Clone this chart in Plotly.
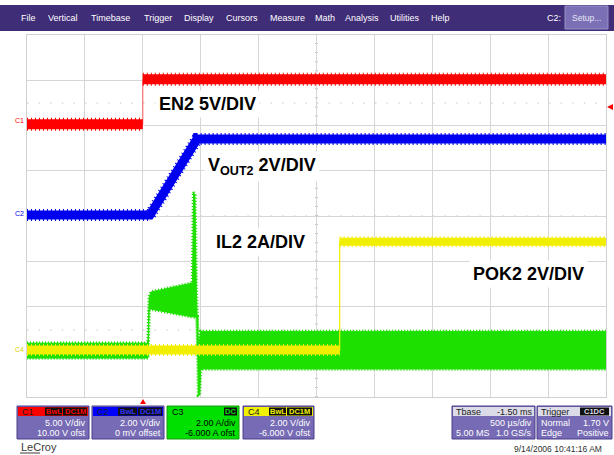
import plotly.graph_objects as go

# ---- acquisition data: time in ms (500 us/div), vertical in screen divisions ----
T_RANGE = [-1.0, 4.0]
DIV_RANGE = [0, 8]

# EN2 (C1, 5 V/div)
en2_t = [-1.0, 0.0, 0.0, 4.0]
en2_v = [6.03, 6.03, 7.02, 7.02]

# VOUT2 (C2, 2 V/div)
vout_t = [-1.0, 0.062, 0.468, 4.0]
vout_v = [4.02, 4.02, 5.70, 5.70]

# POK2 (C4, 2 V/div)
pok_t = [-1.0, 1.70, 1.70, 4.0]
pok_v = [1.04, 1.04, 3.43, 3.43]

# IL2 (C3, 2 A/div) ripple envelope: upper and lower edges
il2_top_t = [-1.0, 0.045, 0.055, 0.07, 0.43, 0.438, 0.45, 0.462, 0.478, 0.50, 4.0]
il2_top_v = [1.19, 1.19, 2.20, 2.32, 2.52, 4.53, 4.45, 2.40, 1.00, 1.45, 1.45]
il2_bot_t = [-1.0, 0.045, 0.055, 0.43, 0.47, 0.48, 0.49, 0.50, 4.0]
il2_bot_v = [0.86, 0.86, 1.95, 1.77, 1.77, 0.04, 0.04, 0.62, 0.62]

menu_items = ["File", "Vertical", "Timebase", "Trigger", "Display", "Cursors",
              "Measure", "Math", "Analysis", "Utilities", "Help"]
menu_x = [20, 47, 90, 143, 183, 225, 269, 314, 344, 389, 430]

FONT = "Arial, Liberation Sans, sans-serif"
RED, BLUE, GREEN, YELLOW = "#ff0000", "#0000f0", "#1ee000", "#f2ee00"
PANEL = "#766bb4"
PANEL_EDGE = "#4a3f8c"
JAG = "1px,3px"  # dash used to give the sampled traces a ragged edge

# screen geometry helpers (pixel -> paper)
L, R, T, B = 27, 606, 35, 397
def PX(px):
    return (px - L) / (R - L)
def PY(py):
    return (B - py) / (B - T)

fig = go.Figure()

def thick(x, y, color, width):
    fig.add_trace(go.Scatter(x=x, y=y, mode="lines",
                             line=dict(color=color, width=width + 3, dash=JAG),
                             hoverinfo="skip"))
    fig.add_trace(go.Scatter(x=x, y=y, mode="lines",
                             line=dict(color=color, width=width), hoverinfo="skip"))

# IL2 ripple band: ragged outline, then solid fill and edge
il2_x = il2_top_t + il2_bot_t[::-1]
il2_y = il2_top_v + il2_bot_v[::-1]
fig.add_trace(go.Scatter(x=il2_x, y=il2_y, mode="lines",
                         line=dict(color=GREEN, width=3.5, dash="1px,2px"), hoverinfo="skip"))
fig.add_trace(go.Scatter(x=il2_x, y=il2_y, mode="lines", fill="toself", fillcolor=GREEN,
                         line=dict(color=GREEN, width=1), hoverinfo="skip"))

# POK2: thin edge + thick levels
fig.add_trace(go.Scatter(x=pok_t, y=pok_v, mode="lines",
                         line=dict(color=YELLOW, width=1.2), hoverinfo="skip"))
thick(pok_t[0:2], pok_v[0:2], YELLOW, 9)
thick(pok_t[2:4], pok_v[2:4], YELLOW, 8)

# VOUT2
thick(vout_t, vout_v, BLUE, 9)

# EN2
fig.add_trace(go.Scatter(x=en2_t, y=en2_v, mode="lines",
                         line=dict(color="#ff6060", width=1), hoverinfo="skip"))
thick(en2_t[0:2], en2_v[0:2], RED, 10)
thick(en2_t[2:4], en2_v[2:4], RED, 10)

shapes = []
ann = []

def rect(x0, y0, x1, y1, fill, line=None, layer="above"):
    shapes.append(dict(type="rect", xref="paper", yref="paper",
                       x0=PX(x0), x1=PX(x1), y0=PY(y1), y1=PY(y0),
                       fillcolor=fill, layer=layer,
                       line=dict(color=line or fill, width=1 if line else 0)))

def text(px, py, s, size=9, color="white", anchor="left", bold=False, bg=None, pad=0):
    ann.append(dict(xref="paper", yref="paper", x=PX(px), y=PY(py), text=s,
                    showarrow=False, xanchor=anchor, yanchor="middle",
                    font=dict(family=FONT, size=size, color=color,
                              weight="bold" if bold else "normal"),
                    bgcolor=bg, borderpad=pad))

# dotted centre/marker rows and column
for yy in (103, 216, 330):
    shapes.append(dict(type="line", xref="paper", yref="paper", x0=0, x1=1,
                       y0=PY(yy), y1=PY(yy), layer="below",
                       line=dict(color="#c4c4c4", width=1, dash="1.5px,10.1px")))
shapes.append(dict(type="line", xref="paper", yref="paper", x0=PX(316.5), x1=PX(316.5),
                   y0=0, y1=1, layer="below",
                   line=dict(color="#c4c4c4", width=3, dash="1px,8.05px")))

# menu bar
rect(0, 5, 614, 31, "#3f2d78")
for name, x in zip(menu_items, menu_x):
    text(x, 18, name, size=9)
text(546, 18, "C2:", size=9)
rect(565, 6, 608, 29, "#7b70b6", line="#9a92c8")
text(586.5, 18, "Setup...", size=8.5, color="#e8e6f4", anchor="center")

# channel panels
def chan_panel(x0, x1, head, name, badges, line1, line2, full=False, badge_txt=None):
    if full:
        rect(x0, 406, x1, 439, head, line="#1a9a10")
        tc = "black"
    else:
        rect(x0, 406, x1, 439, PANEL, line=PANEL_EDGE)
        rect(x0 + 1, 407, x1 - 1, 416, head)
        tc = "white"
    text(x0 + 4, 411.5, name, size=9, color="#202020" if not full else "black")
    for bx0, bx1, s in badges:
        rect(bx0, 407.5, bx1, 415.5, "#101010")
        text((bx0 + bx1) / 2, 411.5, s, size=7.5, color=badge_txt or head, anchor="center", bold=True)
    text(x1 - 2, 422.5, line1, size=9, color=tc, anchor="right")
    text(x1 - 2, 433, line2, size=9, color=tc, anchor="right")

chan_panel(17, 89, RED, "C1", [(45, 62, "BwL"), (63, 87, "DC1M")], "5.00 V/div", "10.00 V ofst")
chan_panel(92, 164, "#0000ff", "C2", [(118, 137, "BwL"), (138, 162, "DC1M")], "2.00 V/div", "0 mV offset",
           badge_txt="#3030ff")
chan_panel(167, 239, "#00e000", "C3", [(224, 237, "DC")], "2.00 A/div", "-6.000 A ofst",
           full=True, badge_txt="#00e000")
chan_panel(243, 314, "#f0f000", "C4", [(269, 286, "BwL"), (287, 312, "DC1M")], "2.00 V/div", "-6.000 V ofst")

# timebase panel
rect(452, 406, 535, 439, PANEL, line=PANEL_EDGE)
rect(453, 407, 534, 416, "#dcdbe8")
text(455, 411.5, "Tbase", size=9, color="#202020")
text(534, 411.5, "-1.50 ms", size=9, color="#202020", anchor="right")
text(533, 422.5, "500 \u00b5s/div", size=9, anchor="right")
text(455, 433, "5.00 MS", size=9)
text(533, 433, "1.0 GS/s", size=9, anchor="right")

# trigger panel
rect(537, 406, 612, 439, PANEL, line=PANEL_EDGE)
rect(538, 407, 611, 416, "#dcdbe8")
text(540, 411.5, "Trigger", size=9, color="#202020")
rect(580, 407.5, 609, 415.5, "#101010")
text(594.5, 411.5, "C1DC", size=7.5, color="#dcdbe8", anchor="center", bold=True)
text(540, 422.5, "Normal", size=9)
text(610, 422.5, "1.70 V", size=9, anchor="right")
text(540, 433, "Edge", size=9)
text(610, 433, "Positive", size=9, anchor="right")

text(20, 447, "LeCroy", size=11, color="#3a3a3a")
shapes.append(dict(type="line", xref="paper", yref="paper", x0=PX(20), x1=PX(40),
                   y0=PY(453), y1=PY(453), line=dict(color="#3a3a3a", width=1)))
text(603, 449, "9/14/2006 10:41:16 AM", size=8.5, color="#303030", anchor="right")

# ground markers on left edge
text(25, 120, "C1", size=7, color=RED, anchor="right")
text(25, 213, "C2", size=7, color=BLUE, anchor="right")
text(25, 349, "C4", size=7, color="#d8d400", anchor="right")

# trigger level / position markers
def tri(points, color):
    d = "M " + " L ".join(f"{PX(a)},{PY(b)}" for a, b in points) + " Z"
    shapes.append(dict(type="path", xref="paper", yref="paper", path=d,
                       fillcolor=color, line=dict(color=color, width=0)))
tri([(607, 107), (613, 104), (613, 110)], RED)
tri([(143, 399), (140, 404), (146, 404)], RED)

# trace labels
lab = dict(size=18, color="black", bold=True, bg="white", pad=3)
text(155, 104, "EN2 5V/DIV", **lab)
text(204, 166, "V<sub>OUT2</sub> 2V/DIV", **lab)
text(212, 242, "IL2 2A/DIV", **lab)
text(469, 274, "POK2 2V/DIV", **lab)

fig.update_layout(
    width=614, height=455,
    margin=dict(l=L, r=614 - R, t=T, b=455 - B),
    paper_bgcolor="white", plot_bgcolor="white",
    showlegend=False,
    shapes=shapes, annotations=ann,
    xaxis=dict(range=T_RANGE, dtick=0.5, tick0=-1.0, showgrid=True,
               gridcolor="#d6d6d6", gridwidth=1, zeroline=False,
               showticklabels=False, ticks="", showline=True, linecolor="#d0d0d0",
               mirror=True, fixedrange=True),
    yaxis=dict(range=DIV_RANGE, dtick=1, showgrid=True, gridcolor="#d6d6d6",
               gridwidth=1, zeroline=False, showticklabels=False, ticks="",
               showline=True, linecolor="#d0d0d0", mirror=True, fixedrange=True),
)

fig.write_html("out.html", config={"displayModeBar": False})
